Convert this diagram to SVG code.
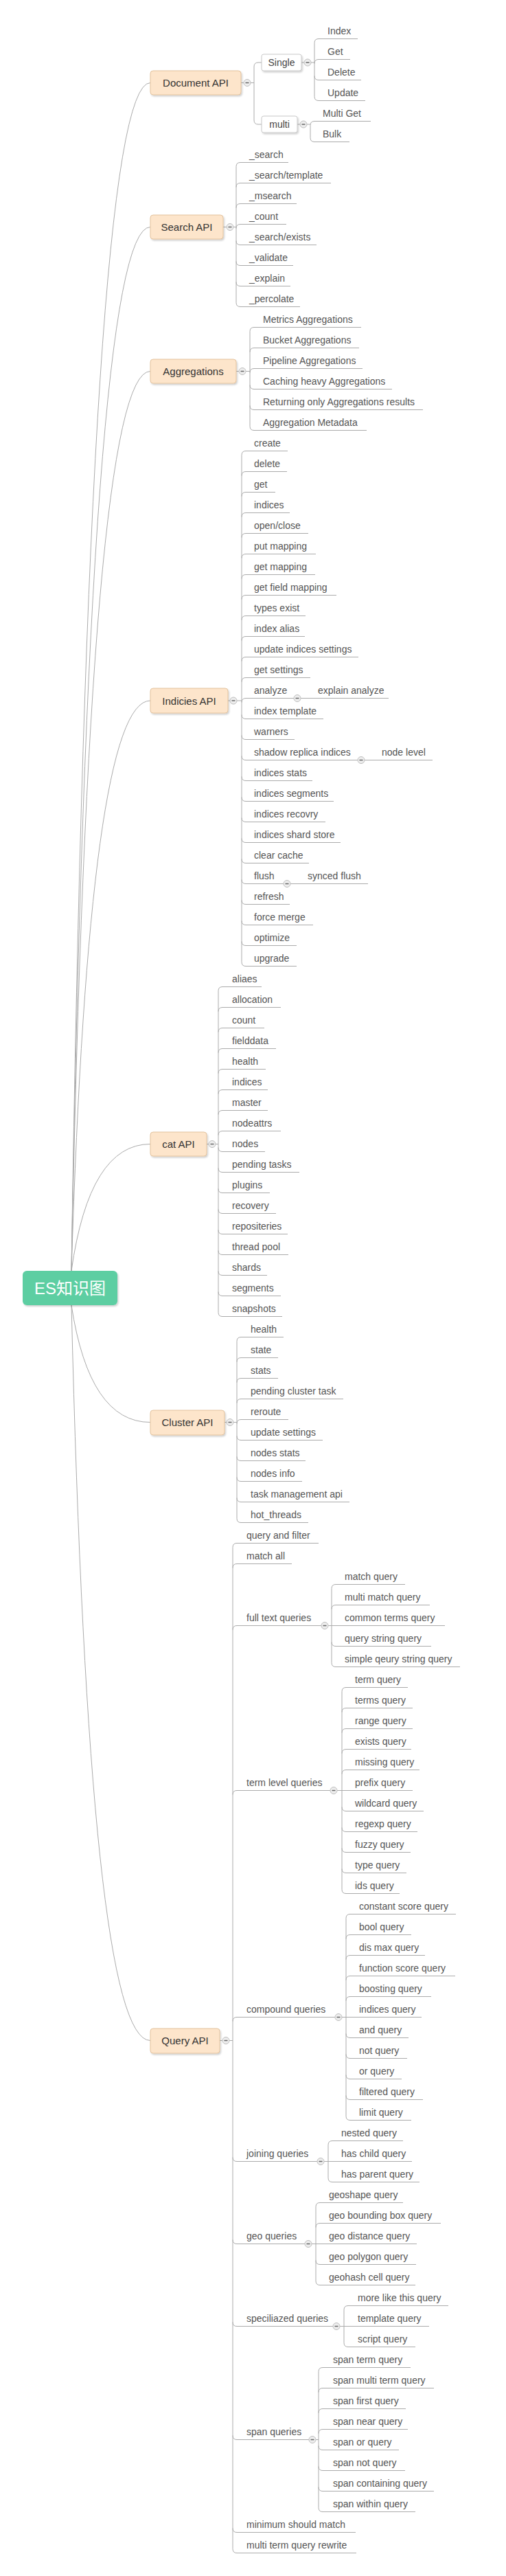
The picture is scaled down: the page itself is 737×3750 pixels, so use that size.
<svg xmlns="http://www.w3.org/2000/svg" xmlns:xlink="http://www.w3.org/1999/xlink" width="737" height="3750" viewBox="0 0 737 3750">
<style>
.ln{fill:none;stroke:#ababab;stroke-width:1}
.ul{fill:none;stroke:#ababab;stroke-width:1}
text{font-family:"Liberation Sans",Arial,"Noto Sans CJK SC",sans-serif}
.lf{font-size:14px;fill:#555}
.b1{fill:#fde5cb;stroke:#e3c29c;stroke-width:1}
.t1{font-size:15px;fill:#333;text-anchor:middle}
.b2{fill:#fff;stroke:#c8c8c8;stroke-width:1}
.t2{font-size:14px;fill:#444;text-anchor:middle}
</style>
<defs>
<filter id="sh" x="-10%" y="-10%" width="130%" height="150%"><feDropShadow dx="1.5" dy="2" stdDeviation="1.2" flood-color="#000" flood-opacity="0.18"/></filter>
<g id="hd"><circle r="5" fill="#eeeeee" stroke="#bdbdbd"/><path d="M-2.5 0H2.5" stroke="#666" stroke-width="1.5"/></g>
</defs>
<rect width="737" height="3750" fill="#fff"/>
<g id="connectors" class="ln">
<path d="M104 1850Q130 120.5 219 120.5M104 1850Q130 330.5 219 330.5M104 1850Q130 540.5 219 540.5M104 1850Q130 1020 219 1020M104 1850Q130 1665.5 219 1665.5M104 1900Q130 2070.5 219 2070.5M104 1900Q130 2970.5 219 2970.5"/>
<path d="M351 120.5H355M325 330.5H330M344 540.5H348M332 1020H335M301 1665.5H304M327 2070.5H330M320 2970.5H324M439 91H443M433 181H437"/>
<path d="M365 120.5H370M370 97V175M370 97Q370 91 376 91H381M370 175Q370 181 376 181H381"/>
<path d="M453 91H458M458 62.5V140.5M458 62.5Q458 56.5 464 56.5M458 92.5Q458 86.5 464 86.5M458 110.5Q458 116.5 464 116.5M458 140.5Q458 146.5 464 146.5"/>
<path d="M447 181H452M452 182.5V200.5M452 182.5Q452 176.5 458 176.5M452 200.5Q452 206.5 458 206.5"/>
<path d="M340 330.5H344M344 242.5V440.5M344 242.5Q344 236.5 350 236.5M344 272.5Q344 266.5 350 266.5M344 302.5Q344 296.5 350 296.5M344 332.5Q344 326.5 350 326.5M344 350.5Q344 356.5 350 356.5M344 380.5Q344 386.5 350 386.5M344 410.5Q344 416.5 350 416.5M344 440.5Q344 446.5 350 446.5"/>
<path d="M358 540.5H364M364 482.5V620.5M364 482.5Q364 476.5 370 476.5M364 512.5Q364 506.5 370 506.5M364 542.5Q364 536.5 370 536.5M364 560.5Q364 566.5 370 566.5M364 590.5Q364 596.5 370 596.5M364 620.5Q364 626.5 370 626.5"/>
<path d="M345 1020H352M352 662.5V1400.5M352 662.5Q352 656.5 358 656.5M352 692.5Q352 686.5 358 686.5M352 722.5Q352 716.5 358 716.5M352 752.5Q352 746.5 358 746.5M352 782.5Q352 776.5 358 776.5M352 812.5Q352 806.5 358 806.5M352 842.5Q352 836.5 358 836.5M352 872.5Q352 866.5 358 866.5M352 902.5Q352 896.5 358 896.5M352 932.5Q352 926.5 358 926.5M352 962.5Q352 956.5 358 956.5M352 992.5Q352 986.5 358 986.5M352 1022.5Q352 1016.5 358 1016.5M352 1040.5Q352 1046.5 358 1046.5M352 1070.5Q352 1076.5 358 1076.5M352 1100.5Q352 1106.5 358 1106.5M352 1130.5Q352 1136.5 358 1136.5M352 1160.5Q352 1166.5 358 1166.5M352 1190.5Q352 1196.5 358 1196.5M352 1220.5Q352 1226.5 358 1226.5M352 1250.5Q352 1256.5 358 1256.5M352 1280.5Q352 1286.5 358 1286.5M352 1310.5Q352 1316.5 358 1316.5M352 1340.5Q352 1346.5 358 1346.5M352 1370.5Q352 1376.5 358 1376.5M352 1400.5Q352 1406.5 358 1406.5"/>
<path d="M314 1665.5H318M318 1442.5V1910.5M318 1442.5Q318 1436.5 324 1436.5M318 1472.5Q318 1466.5 324 1466.5M318 1502.5Q318 1496.5 324 1496.5M318 1532.5Q318 1526.5 324 1526.5M318 1562.5Q318 1556.5 324 1556.5M318 1592.5Q318 1586.5 324 1586.5M318 1622.5Q318 1616.5 324 1616.5M318 1652.5Q318 1646.5 324 1646.5M318 1670.5Q318 1676.5 324 1676.5M318 1700.5Q318 1706.5 324 1706.5M318 1730.5Q318 1736.5 324 1736.5M318 1760.5Q318 1766.5 324 1766.5M318 1790.5Q318 1796.5 324 1796.5M318 1820.5Q318 1826.5 324 1826.5M318 1850.5Q318 1856.5 324 1856.5M318 1880.5Q318 1886.5 324 1886.5M318 1910.5Q318 1916.5 324 1916.5"/>
<path d="M340 2070.5H345M345 1952.5V2210.5M345 1952.5Q345 1946.5 351 1946.5M345 1982.5Q345 1976.5 351 1976.5M345 2012.5Q345 2006.5 351 2006.5M345 2042.5Q345 2036.5 351 2036.5M345 2072.5Q345 2066.5 351 2066.5M345 2090.5Q345 2096.5 351 2096.5M345 2120.5Q345 2126.5 351 2126.5M345 2150.5Q345 2156.5 351 2156.5M345 2180.5Q345 2186.5 351 2186.5M345 2210.5Q345 2216.5 351 2216.5"/>
<path d="M334 2970.5H339M339 2252.5V3710.5M339 2252.5Q339 2246.5 345 2246.5M339 2282.5Q339 2276.5 345 2276.5M339 2372.5Q339 2366.5 345 2366.5M339 2612.5Q339 2606.5 345 2606.5M339 2942.5Q339 2936.5 345 2936.5M339 3140.5Q339 3146.5 345 3146.5M339 3260.5Q339 3266.5 345 3266.5M339 3380.5Q339 3386.5 345 3386.5M339 3545.5Q339 3551.5 345 3551.5M339 3680.5Q339 3686.5 345 3686.5M339 3710.5Q339 3716.5 345 3716.5"/>
<path d="M478 2366.5H489M483 2312.5V2420.5M483 2312.5Q483 2306.5 489 2306.5M483 2342.5Q483 2336.5 489 2336.5M483 2390.5Q483 2396.5 489 2396.5M483 2420.5Q483 2426.5 489 2426.5"/>
<path d="M491 2606.5H504M498 2462.5V2750.5M498 2462.5Q498 2456.5 504 2456.5M498 2492.5Q498 2486.5 504 2486.5M498 2522.5Q498 2516.5 504 2516.5M498 2552.5Q498 2546.5 504 2546.5M498 2582.5Q498 2576.5 504 2576.5M498 2630.5Q498 2636.5 504 2636.5M498 2660.5Q498 2666.5 504 2666.5M498 2690.5Q498 2696.5 504 2696.5M498 2720.5Q498 2726.5 504 2726.5M498 2750.5Q498 2756.5 504 2756.5"/>
<path d="M498 2936.5H510M504 2792.5V3080.5M504 2792.5Q504 2786.5 510 2786.5M504 2822.5Q504 2816.5 510 2816.5M504 2852.5Q504 2846.5 510 2846.5M504 2882.5Q504 2876.5 510 2876.5M504 2912.5Q504 2906.5 510 2906.5M504 2960.5Q504 2966.5 510 2966.5M504 2990.5Q504 2996.5 510 2996.5M504 3020.5Q504 3026.5 510 3026.5M504 3050.5Q504 3056.5 510 3056.5M504 3080.5Q504 3086.5 510 3086.5"/>
<path d="M472 3146.5H484M478 3122.5V3170.5M478 3122.5Q478 3116.5 484 3116.5M478 3170.5Q478 3176.5 484 3176.5"/>
<path d="M454 3266.5H466M460 3212.5V3320.5M460 3212.5Q460 3206.5 466 3206.5M460 3242.5Q460 3236.5 466 3236.5M460 3290.5Q460 3296.5 466 3296.5M460 3320.5Q460 3326.5 466 3326.5"/>
<path d="M495 3386.5H507M501 3362.5V3410.5M501 3362.5Q501 3356.5 507 3356.5M501 3410.5Q501 3416.5 507 3416.5"/>
<path d="M460 3551.5H464M464 3452.5V3650.5M464 3452.5Q464 3446.5 470 3446.5M464 3482.5Q464 3476.5 470 3476.5M464 3512.5Q464 3506.5 470 3506.5M464 3542.5Q464 3536.5 470 3536.5M464 3560.5Q464 3566.5 470 3566.5M464 3590.5Q464 3596.5 470 3596.5M464 3620.5Q464 3626.5 470 3626.5M464 3650.5Q464 3656.5 470 3656.5"/>
</g>
<g id="root"><rect x="33" y="1850" width="138" height="50" rx="6" fill="#5dcea2" filter="url(#sh)"/><text x="102" y="1884" font-size="24" fill="#fff" text-anchor="middle">ES知识图</text></g>
<g id="document-api"><rect class="b1" x="219" y="103" width="132" height="35" rx="4" filter="url(#sh)"/><text class="t1" x="285" y="126">Document API</text></g>
<g id="single"><rect class="b2" x="381" y="79" width="58" height="24" rx="3" filter="url(#sh)"/><text class="t2" x="410" y="96">Single</text></g>
<g id="multi"><rect class="b2" x="381" y="169" width="52" height="24" rx="3" filter="url(#sh)"/><text class="t2" x="407" y="186">multi</text></g>
<g id="index" class="lf"><path class="ul" d="M464 56.5H521"/><text x="477" y="50">Index</text></g>
<g id="get" class="lf"><path class="ul" d="M464 86.5H510"/><text x="477" y="80">Get</text></g>
<g id="delete" class="lf"><path class="ul" d="M464 116.5H526"/><text x="477" y="110">Delete</text></g>
<g id="update" class="lf"><path class="ul" d="M464 146.5H532"/><text x="477" y="140">Update</text></g>
<g id="multi-get" class="lf"><path class="ul" d="M458 176.5H540"/><text x="470" y="170">Multi Get</text></g>
<g id="bulk" class="lf"><path class="ul" d="M458 206.5H509"/><text x="470" y="200">Bulk</text></g>
<g id="search-api"><rect class="b1" x="219" y="313" width="106" height="35" rx="4" filter="url(#sh)"/><text class="t1" x="272" y="336">Search API</text></g>
<g id="s1" class="lf"><path class="ul" d="M350 236.5H420"/><text x="363" y="230">_search</text></g>
<g id="s2" class="lf"><path class="ul" d="M350 266.5H482"/><text x="363" y="260">_search/template</text></g>
<g id="s3" class="lf"><path class="ul" d="M350 296.5H432"/><text x="363" y="290">_msearch</text></g>
<g id="s4" class="lf"><path class="ul" d="M350 326.5H417"/><text x="363" y="320">_count</text></g>
<g id="s5" class="lf"><path class="ul" d="M350 356.5H461"/><text x="363" y="350">_search/exists</text></g>
<g id="s6" class="lf"><path class="ul" d="M350 386.5H427"/><text x="363" y="380">_validate</text></g>
<g id="s7" class="lf"><path class="ul" d="M350 416.5H423"/><text x="363" y="410">_explain</text></g>
<g id="s8" class="lf"><path class="ul" d="M350 446.5H437"/><text x="363" y="440">_percolate</text></g>
<g id="aggregations"><rect class="b1" x="219" y="523" width="125" height="35" rx="4" filter="url(#sh)"/><text class="t1" x="281.5" y="546">Aggregations</text></g>
<g id="a1" class="lf"><path class="ul" d="M370 476.5H526"/><text x="383" y="470">Metrics Aggregations</text></g>
<g id="a2" class="lf"><path class="ul" d="M370 506.5H523"/><text x="383" y="500">Bucket Aggregations</text></g>
<g id="a3" class="lf"><path class="ul" d="M370 536.5H528"/><text x="383" y="530">Pipeline Aggregations</text></g>
<g id="a4" class="lf"><path class="ul" d="M370 566.5H571"/><text x="383" y="560">Caching heavy Aggregations</text></g>
<g id="a5" class="lf"><path class="ul" d="M370 596.5H616"/><text x="383" y="590">Returning only Aggregations results</text></g>
<g id="a6" class="lf"><path class="ul" d="M370 626.5H534"/><text x="383" y="620">Aggregation Metadata</text></g>
<g id="indicies-api"><rect class="b1" x="219" y="1002" width="113" height="36" rx="4" filter="url(#sh)"/><text class="t1" x="275.5" y="1025.5">Indicies API</text></g>
<g id="i1" class="lf"><path class="ul" d="M358 656.5H419"/><text x="370" y="650">create</text></g>
<g id="i2" class="lf"><path class="ul" d="M358 686.5H418"/><text x="370" y="680">delete</text></g>
<g id="i3" class="lf"><path class="ul" d="M358 716.5H401"/><text x="370" y="710">get</text></g>
<g id="i4" class="lf"><path class="ul" d="M358 746.5H422"/><text x="370" y="740">indices</text></g>
<g id="i5" class="lf"><path class="ul" d="M358 776.5H449"/><text x="370" y="770">open/close</text></g>
<g id="i6" class="lf"><path class="ul" d="M358 806.5H460"/><text x="370" y="800">put mapping</text></g>
<g id="i7" class="lf"><path class="ul" d="M358 836.5H459"/><text x="370" y="830">get mapping</text></g>
<g id="i8" class="lf"><path class="ul" d="M358 866.5H490"/><text x="370" y="860">get field mapping</text></g>
<g id="i9" class="lf"><path class="ul" d="M358 896.5H445"/><text x="370" y="890">types exist</text></g>
<g id="i10" class="lf"><path class="ul" d="M358 926.5H444"/><text x="370" y="920">index alias</text></g>
<g id="i11" class="lf"><path class="ul" d="M358 956.5H522"/><text x="370" y="950">update indices settings</text></g>
<g id="i12" class="lf"><path class="ul" d="M358 986.5H452"/><text x="370" y="980">get settings</text></g>
<g id="i13" class="lf"><path class="ul" d="M358 1016.5H428"/><text x="370" y="1010">analyze</text></g>
<g id="i13a" class="lf"><path class="ul" d="M438 1016.5H566"/><text x="463" y="1010">explain analyze</text></g>
<g id="i14" class="lf"><path class="ul" d="M358 1046.5H471"/><text x="370" y="1040">index template</text></g>
<g id="i15" class="lf"><path class="ul" d="M358 1076.5H429"/><text x="370" y="1070">warners</text></g>
<g id="i16" class="lf"><path class="ul" d="M358 1106.5H521"/><text x="370" y="1100">shadow replica indices</text></g>
<g id="i16a" class="lf"><path class="ul" d="M531 1106.5H630"/><text x="556" y="1100">node level</text></g>
<g id="i17" class="lf"><path class="ul" d="M358 1136.5H455"/><text x="370" y="1130">indices stats</text></g>
<g id="i18" class="lf"><path class="ul" d="M358 1166.5H486"/><text x="370" y="1160">indices segments</text></g>
<g id="i19" class="lf"><path class="ul" d="M358 1196.5H474"/><text x="370" y="1190">indices recovry</text></g>
<g id="i20" class="lf"><path class="ul" d="M358 1226.5H496"/><text x="370" y="1220">indices shard store</text></g>
<g id="i21" class="lf"><path class="ul" d="M358 1256.5H450"/><text x="370" y="1250">clear cache</text></g>
<g id="i22" class="lf"><path class="ul" d="M358 1286.5H413"/><text x="370" y="1280">flush</text></g>
<g id="i22a" class="lf"><path class="ul" d="M423 1286.5H536"/><text x="448" y="1280">synced flush</text></g>
<g id="i23" class="lf"><path class="ul" d="M358 1316.5H422"/><text x="370" y="1310">refresh</text></g>
<g id="i24" class="lf"><path class="ul" d="M358 1346.5H456"/><text x="370" y="1340">force merge</text></g>
<g id="i25" class="lf"><path class="ul" d="M358 1376.5H432"/><text x="370" y="1370">optimize</text></g>
<g id="i26" class="lf"><path class="ul" d="M358 1406.5H432"/><text x="370" y="1400">upgrade</text></g>
<g id="cat-api"><rect class="b1" x="219" y="1648" width="82" height="35" rx="4" filter="url(#sh)"/><text class="t1" x="260" y="1671">cat API</text></g>
<g id="c1" class="lf"><path class="ul" d="M324 1436.5H381"/><text x="338" y="1430">aliaes</text></g>
<g id="c2" class="lf"><path class="ul" d="M324 1466.5H409"/><text x="338" y="1460">allocation</text></g>
<g id="c3" class="lf"><path class="ul" d="M324 1496.5H385"/><text x="338" y="1490">count</text></g>
<g id="c4" class="lf"><path class="ul" d="M324 1526.5H402"/><text x="338" y="1520">fielddata</text></g>
<g id="c5" class="lf"><path class="ul" d="M324 1556.5H387"/><text x="338" y="1550">health</text></g>
<g id="c6" class="lf"><path class="ul" d="M324 1586.5H390"/><text x="338" y="1580">indices</text></g>
<g id="c7" class="lf"><path class="ul" d="M324 1616.5H390"/><text x="338" y="1610">master</text></g>
<g id="c8" class="lf"><path class="ul" d="M324 1646.5H409"/><text x="338" y="1640">nodeattrs</text></g>
<g id="c9" class="lf"><path class="ul" d="M324 1676.5H386"/><text x="338" y="1670">nodes</text></g>
<g id="c10" class="lf"><path class="ul" d="M324 1706.5H436"/><text x="338" y="1700">pending tasks</text></g>
<g id="c11" class="lf"><path class="ul" d="M324 1736.5H393"/><text x="338" y="1730">plugins</text></g>
<g id="c12" class="lf"><path class="ul" d="M324 1766.5H402"/><text x="338" y="1760">recovery</text></g>
<g id="c13" class="lf"><path class="ul" d="M324 1796.5H419"/><text x="338" y="1790">repositeries</text></g>
<g id="c14" class="lf"><path class="ul" d="M324 1826.5H420"/><text x="338" y="1820">thread pool</text></g>
<g id="c15" class="lf"><path class="ul" d="M324 1856.5H389"/><text x="338" y="1850">shards</text></g>
<g id="c16" class="lf"><path class="ul" d="M324 1886.5H409"/><text x="338" y="1880">segments</text></g>
<g id="c17" class="lf"><path class="ul" d="M324 1916.5H411"/><text x="338" y="1910">snapshots</text></g>
<g id="cluster-api"><rect class="b1" x="219" y="2053" width="108" height="36" rx="4" filter="url(#sh)"/><text class="t1" x="273" y="2076">Cluster API</text></g>
<g id="k1" class="lf"><path class="ul" d="M351 1946.5H413"/><text x="365" y="1940">health</text></g>
<g id="k2" class="lf"><path class="ul" d="M351 1976.5H405"/><text x="365" y="1970">state</text></g>
<g id="k3" class="lf"><path class="ul" d="M351 2006.5H405"/><text x="365" y="2000">stats</text></g>
<g id="k4" class="lf"><path class="ul" d="M351 2036.5H500"/><text x="365" y="2030">pending cluster task</text></g>
<g id="k5" class="lf"><path class="ul" d="M351 2066.5H420"/><text x="365" y="2060">reroute</text></g>
<g id="k6" class="lf"><path class="ul" d="M351 2096.5H470"/><text x="365" y="2090">update settings</text></g>
<g id="k7" class="lf"><path class="ul" d="M351 2126.5H445"/><text x="365" y="2120">nodes stats</text></g>
<g id="k8" class="lf"><path class="ul" d="M351 2156.5H440"/><text x="365" y="2150">nodes info</text></g>
<g id="k9" class="lf"><path class="ul" d="M351 2186.5H509"/><text x="365" y="2180">task management api</text></g>
<g id="k10" class="lf"><path class="ul" d="M351 2216.5H449"/><text x="365" y="2210">hot_threads</text></g>
<g id="query-api"><rect class="b1" x="219" y="2953" width="101" height="36" rx="4" filter="url(#sh)"/><text class="t1" x="269.5" y="2976">Query API</text></g>
<g id="q1" class="lf"><path class="ul" d="M345 2246.5H464"/><text x="359" y="2240">query and filter</text></g>
<g id="q2" class="lf"><path class="ul" d="M345 2276.5H425"/><text x="359" y="2270">match all</text></g>
<g id="q3" class="lf"><path class="ul" d="M345 2366.5H468"/><text x="359" y="2360">full text queries</text></g>
<g id="q3-1" class="lf"><path class="ul" d="M489 2306.5H590"/><text x="502" y="2300">match query</text></g>
<g id="q3-2" class="lf"><path class="ul" d="M489 2336.5H626"/><text x="502" y="2330">multi match query</text></g>
<g id="q3-3" class="lf"><path class="ul" d="M489 2366.5H648"/><text x="502" y="2360">common terms query</text></g>
<g id="q3-4" class="lf"><path class="ul" d="M489 2396.5H628"/><text x="502" y="2390">query string query</text></g>
<g id="q3-5" class="lf"><path class="ul" d="M489 2426.5H670"/><text x="502" y="2420">simple qeury string query</text></g>
<g id="q4" class="lf"><path class="ul" d="M345 2606.5H481"/><text x="359" y="2600">term level queries</text></g>
<g id="q4-1" class="lf"><path class="ul" d="M504 2456.5H594"/><text x="517" y="2450">term query</text></g>
<g id="q4-2" class="lf"><path class="ul" d="M504 2486.5H601"/><text x="517" y="2480">terms query</text></g>
<g id="q4-3" class="lf"><path class="ul" d="M504 2516.5H601"/><text x="517" y="2510">range query</text></g>
<g id="q4-4" class="lf"><path class="ul" d="M504 2546.5H599"/><text x="517" y="2540">exists query</text></g>
<g id="q4-5" class="lf"><path class="ul" d="M504 2576.5H611"/><text x="517" y="2570">missing query</text></g>
<g id="q4-6" class="lf"><path class="ul" d="M504 2606.5H601"/><text x="517" y="2600">prefix query</text></g>
<g id="q4-7" class="lf"><path class="ul" d="M504 2636.5H617"/><text x="517" y="2630">wildcard query</text></g>
<g id="q4-8" class="lf"><path class="ul" d="M504 2666.5H608"/><text x="517" y="2660">regexp query</text></g>
<g id="q4-9" class="lf"><path class="ul" d="M504 2696.5H598"/><text x="517" y="2690">fuzzy query</text></g>
<g id="q4-10" class="lf"><path class="ul" d="M504 2726.5H592"/><text x="517" y="2720">type query</text></g>
<g id="q4-11" class="lf"><path class="ul" d="M504 2756.5H582"/><text x="517" y="2750">ids query</text></g>
<g id="q5" class="lf"><path class="ul" d="M345 2936.5H488"/><text x="359" y="2930">compound queries</text></g>
<g id="q5-1" class="lf"><path class="ul" d="M510 2786.5H664"/><text x="523" y="2780">constant score query</text></g>
<g id="q5-2" class="lf"><path class="ul" d="M510 2816.5H599"/><text x="523" y="2810">bool query</text></g>
<g id="q5-3" class="lf"><path class="ul" d="M510 2846.5H619"/><text x="523" y="2840">dis max query</text></g>
<g id="q5-4" class="lf"><path class="ul" d="M510 2876.5H663"/><text x="523" y="2870">function score query</text></g>
<g id="q5-5" class="lf"><path class="ul" d="M510 2906.5H628"/><text x="523" y="2900">boosting query</text></g>
<g id="q5-6" class="lf"><path class="ul" d="M510 2936.5H614"/><text x="523" y="2930">indices query</text></g>
<g id="q5-7" class="lf"><path class="ul" d="M510 2966.5H595"/><text x="523" y="2960">and query</text></g>
<g id="q5-8" class="lf"><path class="ul" d="M510 2996.5H593"/><text x="523" y="2990">not query</text></g>
<g id="q5-9" class="lf"><path class="ul" d="M510 3026.5H585"/><text x="523" y="3020">or query</text></g>
<g id="q5-10" class="lf"><path class="ul" d="M510 3056.5H616"/><text x="523" y="3050">filtered query</text></g>
<g id="q5-11" class="lf"><path class="ul" d="M510 3086.5H599"/><text x="523" y="3080">limit query</text></g>
<g id="q6" class="lf"><path class="ul" d="M345 3146.5H462"/><text x="359" y="3140">joining queries</text></g>
<g id="q6-1" class="lf"><path class="ul" d="M484 3116.5H587"/><text x="497" y="3110">nested query</text></g>
<g id="q6-2" class="lf"><path class="ul" d="M484 3146.5H600"/><text x="497" y="3140">has child query</text></g>
<g id="q6-3" class="lf"><path class="ul" d="M484 3176.5H611"/><text x="497" y="3170">has parent query</text></g>
<g id="q7" class="lf"><path class="ul" d="M345 3266.5H444"/><text x="359" y="3260">geo queries</text></g>
<g id="q7-1" class="lf"><path class="ul" d="M466 3206.5H587"/><text x="479" y="3200">geoshape query</text></g>
<g id="q7-2" class="lf"><path class="ul" d="M466 3236.5H642"/><text x="479" y="3230">geo bounding box query</text></g>
<g id="q7-3" class="lf"><path class="ul" d="M466 3266.5H607"/><text x="479" y="3260">geo distance query</text></g>
<g id="q7-4" class="lf"><path class="ul" d="M466 3296.5H606"/><text x="479" y="3290">geo polygon query</text></g>
<g id="q7-5" class="lf"><path class="ul" d="M466 3326.5H605"/><text x="479" y="3320">geohash cell query</text></g>
<g id="q8" class="lf"><path class="ul" d="M345 3386.5H485"/><text x="359" y="3380">speciliazed queries</text></g>
<g id="q8-1" class="lf"><path class="ul" d="M507 3356.5H653"/><text x="521" y="3350">more like this query</text></g>
<g id="q8-2" class="lf"><path class="ul" d="M507 3386.5H625"/><text x="521" y="3380">template query</text></g>
<g id="q8-3" class="lf"><path class="ul" d="M507 3416.5H605"/><text x="521" y="3410">script query</text></g>
<g id="q9" class="lf"><path class="ul" d="M345 3551.5H450"/><text x="359" y="3545">span queries</text></g>
<g id="q9-1" class="lf"><path class="ul" d="M470 3446.5H598"/><text x="485" y="3440">span term query</text></g>
<g id="q9-2" class="lf"><path class="ul" d="M470 3476.5H632"/><text x="485" y="3470">span multi term query</text></g>
<g id="q9-3" class="lf"><path class="ul" d="M470 3506.5H591"/><text x="485" y="3500">span first query</text></g>
<g id="q9-4" class="lf"><path class="ul" d="M470 3536.5H594"/><text x="485" y="3530">span near query</text></g>
<g id="q9-5" class="lf"><path class="ul" d="M470 3566.5H581"/><text x="485" y="3560">span or query</text></g>
<g id="q9-6" class="lf"><path class="ul" d="M470 3596.5H590"/><text x="485" y="3590">span not query</text></g>
<g id="q9-7" class="lf"><path class="ul" d="M470 3626.5H632"/><text x="485" y="3620">span containing query</text></g>
<g id="q9-8" class="lf"><path class="ul" d="M470 3656.5H605"/><text x="485" y="3650">span within query</text></g>
<g id="q10" class="lf"><path class="ul" d="M345 3686.5H518"/><text x="359" y="3680">minimum should match</text></g>
<g id="q11" class="lf"><path class="ul" d="M345 3716.5H519"/><text x="359" y="3710">multi term query rewrite</text></g>
<g id="handles">
<use href="#hd" x="360" y="120.5"/><use href="#hd" x="448" y="91"/><use href="#hd" x="442" y="181"/>
<use href="#hd" x="335" y="330.5"/><use href="#hd" x="353" y="540.5"/><use href="#hd" x="340" y="1020"/>
<use href="#hd" x="433" y="1016.5"/><use href="#hd" x="526" y="1106.5"/><use href="#hd" x="418" y="1286.5"/>
<use href="#hd" x="309" y="1665.5"/><use href="#hd" x="335" y="2070.5"/><use href="#hd" x="329" y="2970.5"/>
<use href="#hd" x="473" y="2366.5"/><use href="#hd" x="486" y="2606.5"/><use href="#hd" x="493" y="2936.5"/>
<use href="#hd" x="467" y="3146.5"/><use href="#hd" x="449" y="3266.5"/><use href="#hd" x="490" y="3386.5"/><use href="#hd" x="455" y="3551.5"/>
</g>
</svg>
